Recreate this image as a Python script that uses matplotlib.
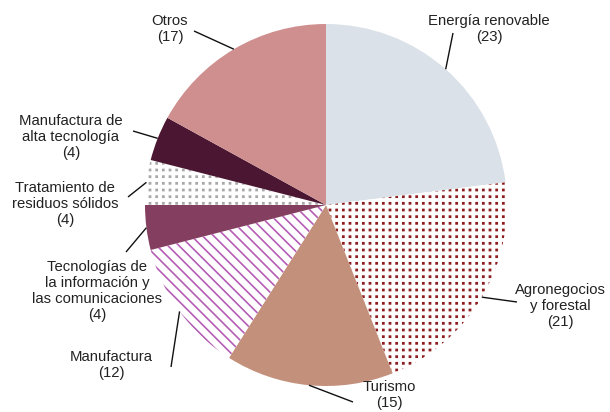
import numpy as np
import matplotlib
matplotlib.use("Agg")
import matplotlib.pyplot as plt
from matplotlib import hatch as mhatch
from matplotlib.path import Path

names = ["Energía renovable", "Agronegocios\ny forestal", "Turismo", "Manufactura",
         "Tecnologías de\nla información y\nlas comunicaciones",
         "Tratamiento de\nresiduos sólidos", "Manufactura de\nalta tecnología", "Otros"]
values = [23, 21, 15, 12, 4, 4, 4, 17]

face_colors = ["#dae1e8", "white", "#c3917b", "white", "#843e5f", "white", "#4b1631", "#cf8f8f"]
hatch_colors = [None, "#8c1c1e", None, "#b55db5", None, "#a8a8a8", None, None]
hatches = [None, "...", None, "\\\\\\", None, "...", None, None]

# layout (image pixel coordinates, origin top-left)
W, H = 610, 412
center_px = (326, 205)
radius_px = 181
text_pos = [(489, 29), (560, 306), (389, 395), (111, 365), (97, 291), (65, 204), (71, 137), (170, 29)]
line_end = [(453, 33), (517, 302), (353, 402), (171, 367), (126, 252), (128, 197), (133, 131), (194, 31)]


class SquareGridDots(mhatch.HatchPatternBase):
    """Square grid of small filled dots (replaces the staggered '.' hatch)."""
    def __init__(self, hatch, density):
        self.num_rows = int(round(hatch.count('.') * density * 5 / 6))
        self.num_vertices = self.num_rows * self.num_rows * 5

    def set_vertices_and_codes(self, vertices, codes):
        n = self.num_rows
        off = 1.0 / n
        s = 0.0055
        k = 0
        for i in range(n):
            for j in range(n):
                x = (j + 0.5) * off
                y = (i + 0.5) * off
                vertices[k:k + 5] = [(x - s, y - s), (x + s, y - s), (x + s, y + s),
                                     (x - s, y + s), (x - s, y - s)]
                codes[k] = Path.MOVETO
                codes[k + 1:k + 4] = Path.LINETO
                codes[k + 4] = Path.CLOSEPOLY
                k += 5


mhatch._hatch_types[:] = [SquareGridDots if t is mhatch.SmallFilledCircles else t
                          for t in mhatch._hatch_types]

plt.rcParams["font.family"] = ["Liberation Sans", "DejaVu Sans"]
plt.rcParams["hatch.linewidth"] = 1.2

fig = plt.figure(figsize=(W / 100, H / 100), dpi=100)
ax = fig.add_axes([0, 0, 1, 1])


def fy(y):
    return H - y


cx, cy = center_px[0], fy(center_px[1])
wedges, _ = ax.pie(values, startangle=90, counterclock=False, center=(cx, cy),
                   radius=radius_px, colors=face_colors,
                   wedgeprops=dict(linewidth=0))
for w, h, hc in zip(wedges, hatches, hatch_colors):
    if h:
        w.set_hatch(h)
        w.set_edgecolor(hc)
        w.set_linewidth(0)

total = sum(values)
ang = 90.0
for i, (n, v) in enumerate(zip(names, values)):
    span = 360.0 * v / total
    mid = np.deg2rad(ang - span / 2)
    ang -= span
    x0 = cx + radius_px * np.cos(mid)
    y0 = cy + radius_px * np.sin(mid)
    ex, ey = line_end[i]
    ax.plot([x0, ex], [y0, fy(ey)], color="#111111", lw=1.0, solid_capstyle="butt")
    tx, ty = text_pos[i]
    ax.text(tx, fy(ty), f"{n}\n({v})", ha="center", va="center", fontsize=10.7,
            color="#222222", linespacing=1.2)

ax.set_xlim(0, W)
ax.set_ylim(0, H)
ax.set_aspect("equal")
ax.axis("off")
fig.savefig("out.png", dpi=100)
